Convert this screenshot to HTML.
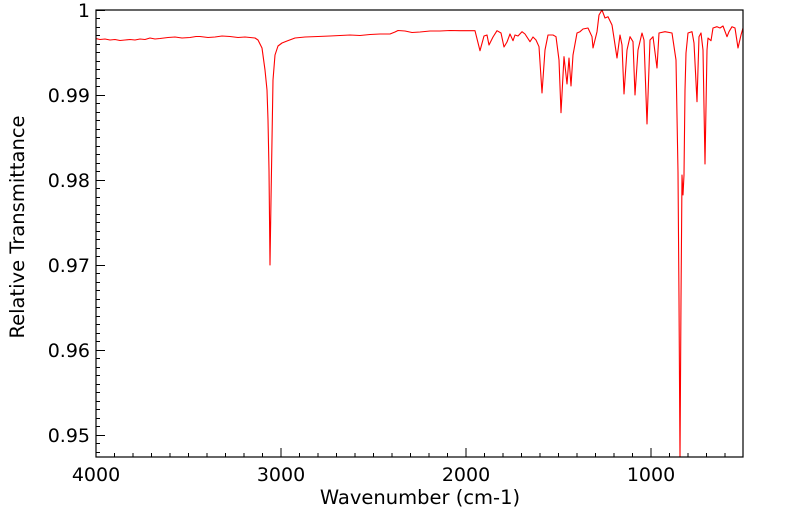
<!DOCTYPE html>
<html><head><meta charset="utf-8"><style>
html,body{margin:0;padding:0;background:#fff;width:799px;height:516px;overflow:hidden}
svg text{font-family:"DejaVu Sans","Liberation Sans",sans-serif;font-size:19px;fill:#000}
</style></head><body>
<svg width="799" height="516" xmlns="http://www.w3.org/2000/svg">
<defs><clipPath id="c"><rect x="96" y="10" width="647" height="447"/></clipPath></defs>
<g clip-path="url(#c)">
<polyline fill="none" stroke="#f00" stroke-width="1.1" stroke-linejoin="round" points="
96,38.5 100,39.5 105,39 110,40 115,39.5 120,40.5 125,40 130,39.5 135,40 140,39 145,39.5 150,38 155,39 160,38.5 168,37.5 175,37 182,38 190,37.5 196,36.5 200,36.5 208,37.5 215,37 222,36 230,36.5 238,37.5 245,37 255,38 258,40 262,48 265,70 267,90 268,120 269,170 270,265 271,200 272,140 273,80 275,55 278,46 282,43 287,41 295,38 305,37 318,36.5 330,36 340,35.5 350,35 360,35.5 370,34.5 380,34 390,34 395,32 398,30.5 405,31 412,32.5 420,32 430,31 440,31 450,30.5 460,30.7 475,30.7 480,50.7 484,36 487,35 489,45 493,37 497,30.7 501,33 504,47 507,42 510,34 513,40.7 515,35 518,36 522,31.7 525,34 530,41.7 533,37 536,40 539,46.7 542,93 545,50 548,35 553,35 556,36.7 559,60 561,112.7 564,56.7 567,84 569,58 571,86 573,55 577,33 580,31.7 583,29 588,28 592,36.7 593,48 597,31.7 599,15 602,10 605,18 608,16.7 612,25 614,38 617,58 620,35 622,45 624,94 627,50 630,36.7 633,41.7 635,95 638,50 642,33 644,40 647,124 650,40 653,36.7 657,68 659,33 665,31.7 672,33 676,60 678,172 679,300 680,460 681,300 682,175 683,195 684,175 685,90 686,53 688,33 692,31.7 694,43 697,101.7 699,36.7 701,33 703,50 705,164 707,50 708,38 711,40.7 713,28 717,26.7 720,28 723,26 727,36.7 729,31.7 732,26.7 735,28 738,48 741,35 743,28"/>
</g>
<rect x="96" y="10" width="647" height="447" fill="none" stroke="#000" stroke-width="1.2"/>
<g stroke="#000" stroke-width="1">
<path d="M96,10.5h9M96,95.5h9M96,180.5h9M96,265.5h9M96,350.5h9M96,435.5h9"/>
<path d="M96,18.5h4M96,27.5h4M96,35.5h4M96,44.5h4M96,52.5h4M96,61.5h4M96,69.5h4M96,78.5h4M96,86.5h4
M96,103.5h4M96,112.5h4M96,120.5h4M96,129.5h4M96,137.5h4M96,146.5h4M96,154.5h4M96,163.5h4M96,171.5h4
M96,188.5h4M96,197.5h4M96,205.5h4M96,214.5h4M96,222.5h4M96,231.5h4M96,239.5h4M96,248.5h4M96,256.5h4
M96,273.5h4M96,282.5h4M96,290.5h4M96,299.5h4M96,307.5h4M96,316.5h4M96,324.5h4M96,333.5h4M96,341.5h4
M96,358.5h4M96,367.5h4M96,375.5h4M96,384.5h4M96,392.5h4M96,401.5h4M96,409.5h4M96,418.5h4M96,426.5h4
M96,443.5h4M96,452.5h4"/>
<path d="M281,457v-9M466,457v-9M651,457v-9"/>
<path d="M114.5,457v-4M133,457v-4M151.5,457v-4M170,457v-4M188.5,457v-4M207,457v-4M225.5,457v-4M244,457v-4M262.5,457v-4
M299.5,457v-4M318,457v-4M336.5,457v-4M355,457v-4M373.5,457v-4M392,457v-4M410.5,457v-4M429,457v-4M447.5,457v-4
M484.5,457v-4M503,457v-4M521.5,457v-4M540,457v-4M558.5,457v-4M577,457v-4M595.5,457v-4M614,457v-4M632.5,457v-4
M669.5,457v-4M688,457v-4M706.5,457v-4M725,457v-4"/>
</g>
<g text-anchor="end">
<text x="90" y="17">1</text>
<text x="90" y="102">0.99</text>
<text x="90" y="187">0.98</text>
<text x="90" y="272">0.97</text>
<text x="90" y="357">0.96</text>
<text x="90" y="442">0.95</text>
</g>
<g text-anchor="middle">
<text x="96" y="481">4000</text>
<text x="281" y="481">3000</text>
<text x="466" y="481">2000</text>
<text x="651" y="481">1000</text>
<text x="420" y="504" style="font-size:19.5px">Wavenumber (cm-1)</text>
<text transform="translate(24,227) rotate(-90)" style="font-size:19.5px">Relative Transmittance</text>
</g>
</svg>
</body></html>
